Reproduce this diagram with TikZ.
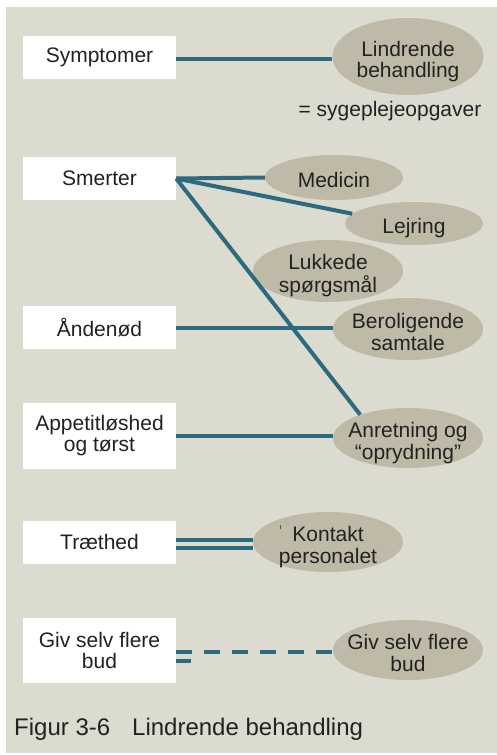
\documentclass[tikz,border=0pt]{standalone}
\usepackage{fontspec}
\setmainfont{Liberation Sans}
\usetikzlibrary{shapes.geometric}
\definecolor{bgcol}{HTML}{DCDBD0}
\definecolor{ovalcol}{HTML}{BEBAA7}
\definecolor{linecol}{HTML}{2D6A80}
\definecolor{textcol}{HTML}{222222}
% text of an oval takes no room, so the oval keeps its own size
\newcommand{\ovaltxt}[1]{\raisebox{-11pt}[0pt][0pt]{\makebox[0pt]{\begin{tabular}{@{}c@{}}#1\end{tabular}}}}
\tikzset{
  symbox/.style={fill=white, minimum width=153pt, minimum height=43pt, inner sep=0pt,
    align=center, text=textcol, font=\fontsize{21}{21}\selectfont},
  oval/.style={ellipse, fill=ovalcol, inner sep=0pt, text=textcol,
    font=\fontsize{21}{21}\selectfont},
  link/.style={linecol, line width=4pt},
}
\begin{document}
\begin{tikzpicture}[x=1pt,y=-1pt]
  % Background
  \useasboundingbox (0,0) rectangle (497,755);
  \fill[bgcol] (6,7) rectangle (497,753);
  % Symptoms (left column)
  \node[symbox] (sympt) at (99.5,57.5) {Symptomer};
  \node[symbox] (smert) at (99.5,178.5) {Smerter};
  \node[symbox] (aand) at (99.5,327.5) {Åndenød};
  \node[symbox, minimum height=66pt] (appet) at (99.5,436) {Appetitløshed\\og tørst};
  \node[symbox] (traet) at (99.5,542) {Træthed};
  \node[symbox, minimum height=65pt] (givbox) at (99.5,650.5) {Giv selv flere\\bud};
  % Nursing tasks (ovals)
  \node[oval, minimum width=151pt, minimum height=77pt] (lindr) at (408,56.5) {\ovaltxt{Lindrende\\behandling}};
  \node[text=textcol, font=\fontsize{21}{21}\selectfont, anchor=base] (sygepl) at (390,116) {= sygeplejeopgaver};
  \node[oval, minimum width=138pt, minimum height=45pt] (medic) at (334,177.5) {\ovaltxt{Medicin}};
  \node[oval, minimum width=138pt, minimum height=43pt] (lejr) at (414,223.5) {\ovaltxt{Lejring}};
  \node[oval, minimum width=150pt, minimum height=62pt] (lukk) at (328,271) {\ovaltxt{Lukkede\\spørgsmål}};
  \node[oval, minimum width=150pt, minimum height=62pt] (berol) at (408,329) {\ovaltxt{Beroligende\\samtale}};
  \node[oval, minimum width=150pt, minimum height=60pt] (anret) at (408,438) {\ovaltxt{Anretning og\\“oprydning”}};
  \node[oval, minimum width=150pt, minimum height=60pt] (kontakt) at (328,542) {\ovaltxt{Kontakt\\personalet}};
  \node[oval, minimum width=150pt, minimum height=60pt] (givov) at (408,650) {\ovaltxt{Giv selv flere\\bud}};
  % Connectors
  \draw[link] ([yshift=-1.5pt]sympt.east) -- ([yshift=-1.5pt]sympt.east -| lindr.west);
  \draw[link] (smert.east) -- (medic.west);
  \draw[link] (smert.east) -- (lejr.171);
  \draw[link] (smert.east) -- (anret.154);
  \draw[link] (aand.east) -- (aand.east -| berol.west);
  \draw[link] (appet.east) -- (appet.east -| anret.west);
  \draw[linecol, line width=3.8pt, double=bgcol, double distance=3.5pt]
    ([yshift=-2pt]traet.east) -- ([yshift=-2pt]traet.east -| kontakt.west);
  \draw[linecol, line width=1pt] (280,525) -- (280,529);
  \draw[link, dash pattern=on 16pt off 12pt] ([yshift=-1pt]givbox.east) -- ([yshift=-1pt]givbox.east -| givov.west);
  \draw[link] ([yshift=-10.5pt]givbox.east) -- ++(15,0);
  % Caption
  \node[text=textcol, font=\fontsize{24}{24}\selectfont, anchor=base west, inner sep=0pt] (capt) at (14,735)
    {Figur 3-6\hspace{22pt}Lindrende behandling};
\end{tikzpicture}
\end{document}
